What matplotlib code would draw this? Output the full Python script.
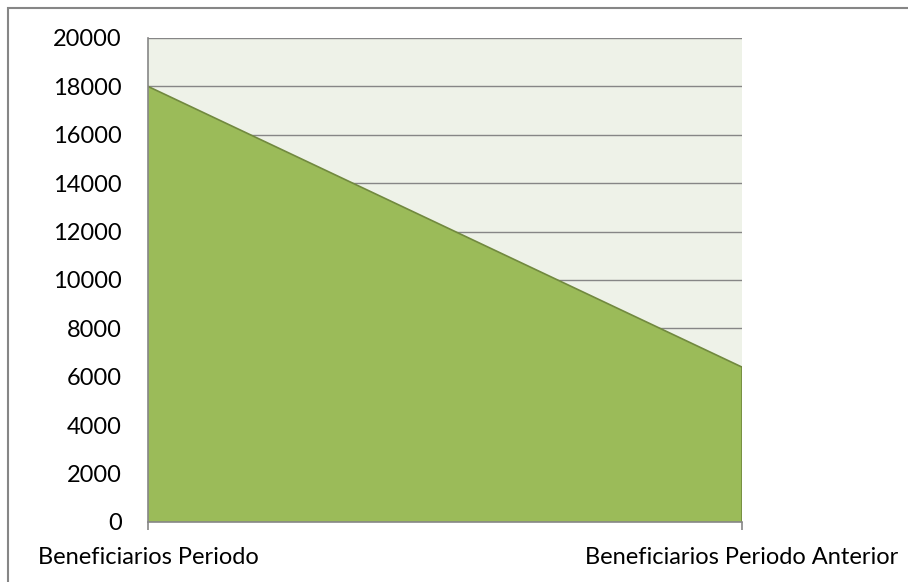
import matplotlib.pyplot as plt
from matplotlib.patches import Rectangle

# Data
categories = ['Beneficiarios Periodo', 'Beneficiarios Periodo Anterior']
values = [18000, 6400]
y_ticks = list(range(0, 20001, 2000))

plt.rcParams['font.family'] = ['Lato', 'DejaVu Sans']

fig = plt.figure(figsize=(9.08, 5.82), dpi=100)
ax = fig.add_axes([148 / 908, 1 - 522 / 582, (742 - 148) / 908, (522 - 38) / 582])

ax.set_facecolor('#EEF2E8')
x = list(range(len(categories)))
ax.fill_between(x, values, 0, facecolor='#9BBB59', edgecolor='none', zorder=3)
ax.plot(x, values, color='#71893F', linewidth=1.2, zorder=4)
ax.plot([x[-1], x[-1]], [0, values[-1]], color='#71893F', linewidth=1.2, zorder=4)

ax.set_xlim(0, len(categories) - 1)
ax.set_ylim(0, 20000)
ax.set_yticks(y_ticks)
ax.set_yticklabels([str(v) for v in y_ticks], fontsize=17)
ax.set_xticks(x)
ax.set_xticklabels(categories, fontsize=17)

ax.grid(True, axis='y', color='#868686', linewidth=1.0, zorder=1)
ax.set_axisbelow(True)

for side in ['top', 'right']:
    ax.spines[side].set_visible(False)
for side in ['left', 'bottom']:
    ax.spines[side].set_color('#868686')
    ax.spines[side].set_linewidth(1.2)
    ax.spines[side].set_zorder(5)

ax.tick_params(axis='y', length=0, pad=19)
ax.tick_params(axis='x', length=6, color='#868686', width=1.2, pad=12)

# outer chart border
fig.patches.append(Rectangle((8 / 908, -0.05), 1.1, 1 - 8 / 582 + 0.05,
                             transform=fig.transFigure, fill=False,
                             edgecolor='#868686', linewidth=1.5))

plt.savefig('out.png', dpi=100)
